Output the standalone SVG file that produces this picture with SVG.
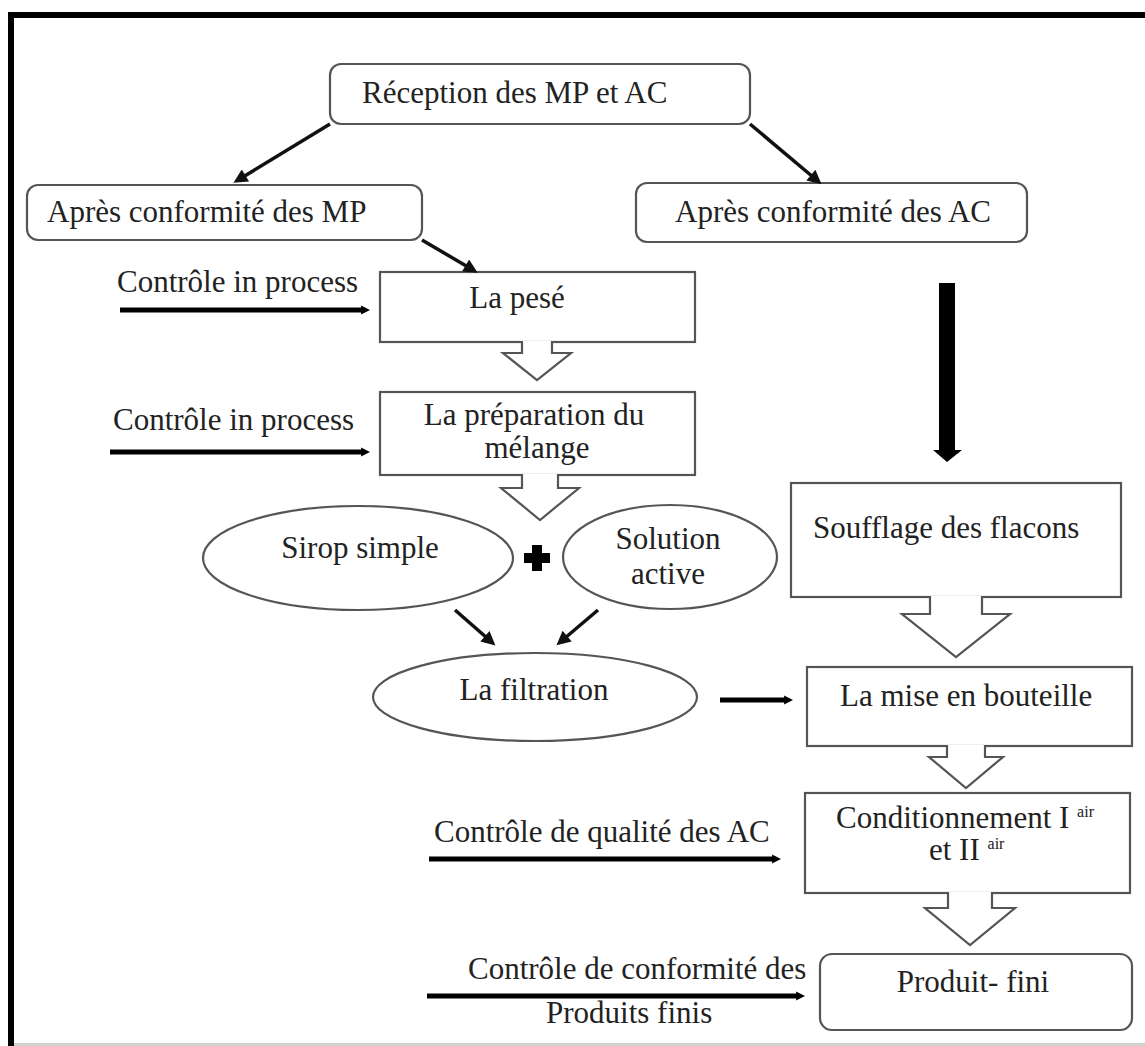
<svg xmlns="http://www.w3.org/2000/svg" width="1145" height="1046" viewBox="0 0 1145 1046">
<defs>
<style>
.t{font-family:"Liberation Serif","Times New Roman",serif;font-size:31px;fill:#222}
.sup{font-size:16px}
.box{fill:#fff;stroke:#555;stroke-width:2.2}
.blk{fill:#fff;stroke:#555;stroke-width:2.2;stroke-linejoin:miter}
.thin{stroke:#111;stroke-width:3.5;fill:none}
.thick{stroke:#000;stroke-width:5;fill:none}
</style>
<marker id="hd" viewBox="0 0 10 10" refX="2" refY="5" markerWidth="16" markerHeight="14" markerUnits="userSpaceOnUse" orient="auto">
<path d="M0,0 L10,5 L0,10 z" fill="#111"/>
</marker>
<marker id="hh" viewBox="0 0 10 10" refX="1" refY="5" markerWidth="9" markerHeight="10" markerUnits="userSpaceOnUse" orient="auto">
<path d="M0,0 L10,5 L0,10 z" fill="#000"/>
</marker>
</defs>
<rect width="1145" height="1046" fill="#fff"/>
<g id="frame">
<rect x="8" y="12" width="6" height="1034" fill="#000"/>
<rect x="8" y="12" width="1137" height="6" fill="#000"/>
<rect x="14" y="1043" width="1131" height="3" fill="#d0d0d0"/>
</g>

<g id="reception"><rect class="box" x="330" y="64" width="420" height="60" rx="11"/><text class="t" x="362" y="103">Réception des MP et AC</text></g>
<g id="apres-mp"><rect class="box" x="27" y="185" width="395" height="55" rx="11"/><text class="t" x="47" y="222">Après conformité des MP</text></g>
<g id="apres-ac"><rect class="box" x="636" y="183" width="391" height="59" rx="11"/><text class="t" x="675" y="222">Après conformité des AC</text></g>
<g id="pese"><rect class="box" x="380" y="272" width="315" height="70"/><text class="t" x="517" y="308" text-anchor="middle">La pesé</text></g>
<g id="preparation"><rect class="box" x="380" y="392" width="315" height="83"/><text class="t" x="534" y="425" text-anchor="middle">La préparation du</text><text class="t" x="537" y="458" text-anchor="middle">mélange</text></g>
<g id="sirop"><ellipse class="box" cx="358" cy="558" rx="155" ry="52"/><text class="t" x="360" y="558" text-anchor="middle">Sirop simple</text></g>
<g id="plus"><rect x="524" y="553" width="26" height="10" fill="#000"/><rect x="532" y="545" width="10" height="26" fill="#000"/></g>
<g id="solution"><ellipse class="box" cx="670" cy="557" rx="107" ry="52"/><text class="t" x="668" y="549" text-anchor="middle">Solution</text><text class="t" x="668" y="584" text-anchor="middle">active</text></g>
<g id="filtration"><ellipse class="box" cx="535" cy="697" rx="162" ry="44"/><text class="t" x="534" y="700" text-anchor="middle">La filtration</text></g>
<g id="soufflage"><rect class="box" x="791" y="483" width="330" height="114"/><text class="t" x="813" y="538">Soufflage des flacons</text></g>
<g id="mise"><rect class="box" x="807" y="667" width="325" height="79"/><text class="t" x="840" y="706">La mise en bouteille</text></g>
<g id="conditionnement"><rect class="box" x="805" y="793" width="325" height="100"/><text class="t" x="836" y="828">Conditionnement I <tspan class="sup" dy="-11">air</tspan></text><text class="t" x="929" y="860">et II <tspan class="sup" dy="-11">air</tspan></text></g>
<g id="produit"><rect class="box" x="820" y="954" width="312" height="76" rx="12"/><text class="t" x="973" y="992" text-anchor="middle">Produit- fini</text></g>

<g id="labels">
<text class="t" x="117" y="292">Contrôle in process</text>
<text class="t" x="113" y="430">Contrôle in process</text>
<text class="t" x="434" y="842">Contrôle de qualité des AC</text>
<text class="t" x="468" y="979">Contrôle de conformité des</text>
<text class="t" x="546" y="1023">Produits finis</text>
</g>

<g id="connectors">
<line class="thin" x1="330" y1="124" x2="243" y2="177" marker-end="url(#hd)"/>
<line class="thin" x1="750" y1="124" x2="813" y2="177" marker-end="url(#hd)"/>
<line class="thin" x1="422" y1="240" x2="468" y2="267" marker-end="url(#hd)"/>
<line class="thin" x1="455" y1="610" x2="487" y2="638" marker-end="url(#hd)"/>
<line class="thin" x1="598" y1="610" x2="565" y2="638" marker-end="url(#hd)"/>
<line class="thick" x1="120" y1="310" x2="362" y2="310" marker-end="url(#hh)"/>
<line class="thick" x1="110" y1="452" x2="362" y2="452" marker-end="url(#hh)"/>
<line class="thick" x1="720" y1="700" x2="785" y2="700" marker-end="url(#hh)"/>
<line class="thick" x1="429" y1="859" x2="773" y2="859" marker-end="url(#hh)"/>
<line class="thick" x1="427" y1="996" x2="797" y2="996" marker-end="url(#hh)"/>
<path d="M939,283 H955 V450 H962 L947,462 L933,450 H939 Z" fill="#000"/>
<path class="blk" d="M522,341 V353 H503 L537,380 L571,353 H552 V341"/>
<path class="blk" d="M522,474 V488 H501 L540,520 L579,488 H558 V474"/>
<path class="blk" d="M930,596 V614 H902 L956,657 L1010,614 H982 V596"/>
<path class="blk" d="M947,745 V757 H929 L966,788 L1003,757 H985 V745"/>
<path class="blk" d="M948,892 V908 H925 L970,945 L1015,908 H992 V892"/>
</g>
</svg>
